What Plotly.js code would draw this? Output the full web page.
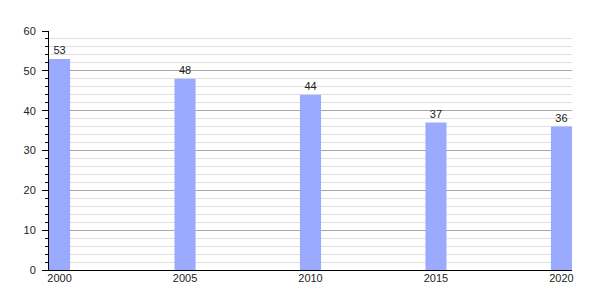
<!DOCTYPE html>
<html>
<head>
<meta charset="utf-8">
<script src="https://cdn.plot.ly/plotly-3.0.1.min.js"></script>
<style>html,body{margin:0;padding:0;background:#fff;}#chart{width:600px;height:300px;}</style>
</head>
<body>
<div id="chart"></div>
<script>
const years = [2000, 2005, 2010, 2015, 2020];
const values = [53, 48, 44, 37, 36];
const tickLabels = ['2000', '2005', '2010', '2015', '2020'];
const barWidth = 0.84;

const trace = {
  type: 'bar',
  x: years,
  y: values,
  width: barWidth,
  marker: {color: '#99aaff', line: {width: 0}},
  text: values.map(String),
  textposition: 'outside',
  textfont: {family: 'Liberation Sans, Arial, sans-serif', size: 11, color: '#222'},
  cliponaxis: false,
  hoverinfo: 'x+y'
};

const layout = {
  width: 600, height: 300,
  margin: {l: 49, r: 28, t: 31, b: 30},
  paper_bgcolor: '#fff', plot_bgcolor: '#fff',
  showlegend: false,
  font: {family: 'Liberation Sans, Arial, sans-serif', size: 11, color: '#222'},
  xaxis: {
    range: [years[0] - barWidth / 2, years[years.length - 1] + barWidth / 2],
    tickvals: years, ticktext: tickLabels,
    showgrid: false, zeroline: false,
    showline: true, linecolor: '#000', linewidth: 1,
    ticks: '', ticklabelstandoff: -2,
    tickfont: {size: 11, color: '#222'}
  },
  yaxis: {
    range: [0, 60], dtick: 10, tick0: 0,
    showgrid: true, gridcolor: '#a8a8a8', gridwidth: 1,
    zeroline: false,
    showline: true, linecolor: '#000', linewidth: 1,
    ticks: 'outside', ticklen: 6, tickcolor: '#000',
    ticklabelstandoff: 4,
    tickfont: {size: 11, color: '#222'},
    minor: {dtick: 2, showgrid: true, gridcolor: '#e0e0e0', gridwidth: 1, ticks: 'outside', ticklen: 3, tickcolor: '#000'}
  }
};

Plotly.newPlot('chart', [trace], layout, {displayModeBar: false, staticPlot: true});
</script>
</body>
</html>
